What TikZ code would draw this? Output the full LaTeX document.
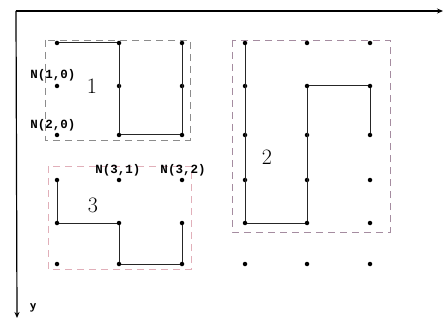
\documentclass[tikz,border=0pt]{standalone}
\usepackage{fontspec}
\newfontfamily\labmono{Liberation Mono}
\usetikzlibrary{arrows.meta}
\begin{document}
\begin{tikzpicture}[x=1pt,y=-1pt,
  dot/.style={circle,fill=black,inner sep=0pt,minimum size=4.5pt},
  link/.style={line width=1pt,black!85},
  axis/.style={line width=1.2pt,-{Stealth[length=6pt,width=5pt]}},
  region/.style={dashed,dash pattern=on 7pt off 5pt,line width=0.8pt},
  nlabel/.style={font=\labmono\bfseries\fontsize{12.5}{13}\selectfont,inner sep=0pt},
  bignum/.style={font=\fontsize{22}{24}\selectfont,inner sep=0pt}]
\useasboundingbox (0,0) rectangle (446,323);
% axes
\coordinate (O) at (16,11);
\coordinate (xend) at (443,11);
\coordinate (yend) at (17,318);
\draw[axis] (O) -- (xend);
\draw[axis] (O) -- (yend);
\node[font=\sffamily\bfseries\fontsize{13}{14}\selectfont,inner sep=0pt] (ylab) at (33,308) {y};
% regions
\draw[region,draw=black!45] (45,40) rectangle (190,140);
\draw[region,draw={rgb,255:red,165;green,140;blue,160}] (232,40) rectangle (390,232);
\draw[region,draw={rgb,255:red,225;green,175;blue,185}] (48,166) rectangle (191,269);
% dots
\foreach \r/\y in {1/43,2/86,3/135,4/180,5/223,6/264}{
  \node[dot] (L\r1) at (57,\y) {};
  \node[dot] (L\r2) at (119,\y) {};
  \node[dot] (L\r3) at (182,\y) {};
  \node[dot] (R\r1) at (245,\y) {};
  \node[dot] (R\r2) at (307,\y) {};
  \node[dot] (R\r3) at (370,\y) {};
}
% block 1 path
\draw[link] (L11) -- (L12) -- (L32) -- (L33) -- (L13);
% block 2 path
\draw[link] (R11) -- (R51) -- (R52) -- (R22) -- (R23) -- (R33);
% block 3 path
\draw[link] (L41) -- (L51) -- (L52) -- (L62) -- (L63) -- (L53);
% labels
\node[nlabel] (n10) at (53,75) {N(1,0)};
\node[nlabel] (n20) at (53,125) {N(2,0)};
\node[nlabel] (n31) at (118,170) {N(3,1)};
\node[nlabel] (n32) at (183,170) {N(3,2)};
\node[bignum] (b1) at (92,86) {1};
\node[bignum] (b2) at (267,157) {2};
\node[bignum] (b3) at (93,205) {3};
\end{tikzpicture}
\end{document}
